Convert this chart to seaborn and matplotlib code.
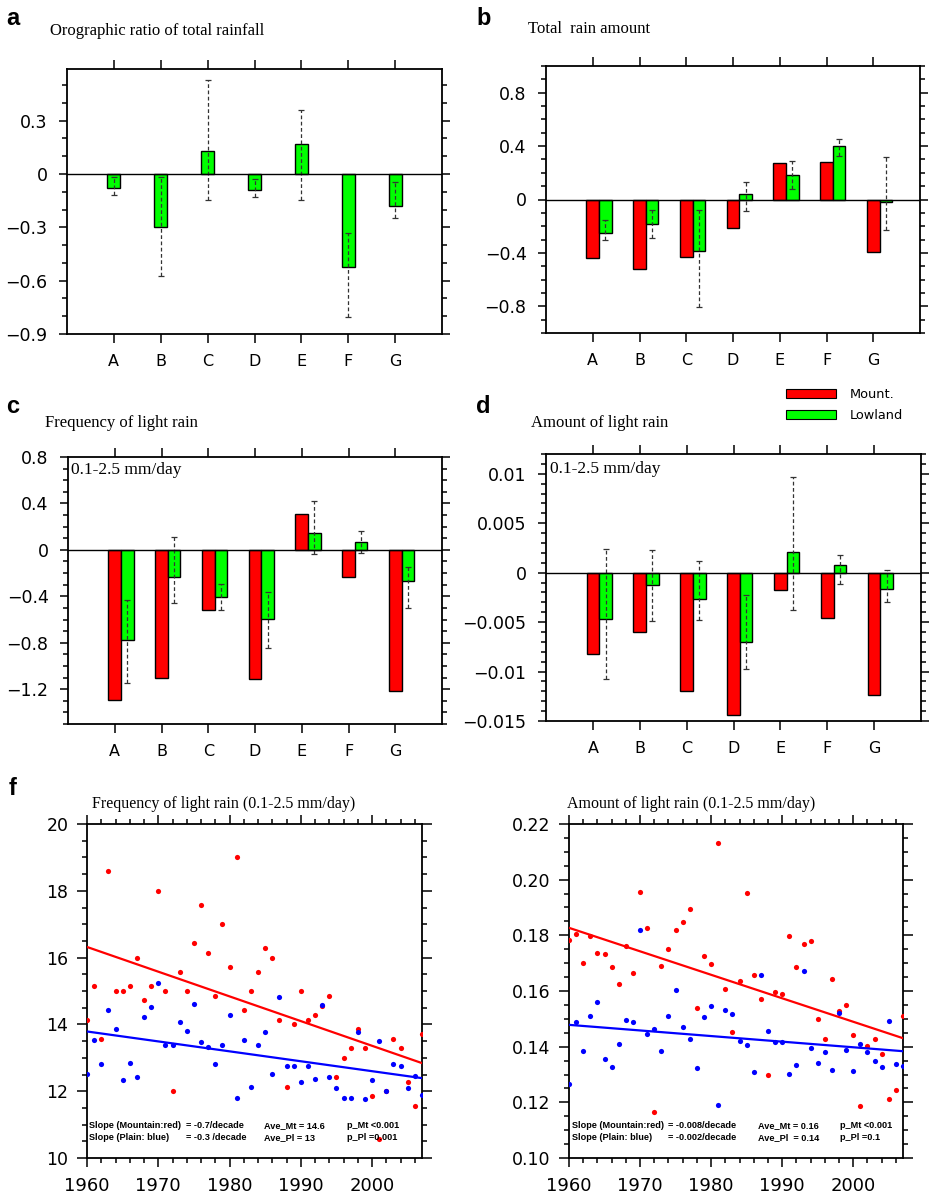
"""
Orographic rainfall figure: bar panels a-d (regions A-G) and trend panels f.
"""
import numpy as np
import pandas as pd
import matplotlib
matplotlib.use('Agg')
import matplotlib.pyplot as plt
from matplotlib.ticker import MultipleLocator, NullLocator, FuncFormatter
from matplotlib.patches import Patch
import seaborn as sns

sns.set_style('ticks')
plt.rcParams['font.family'] = ['DejaVu Sans']
plt.rcParams['axes.unicode_minus'] = True
for k in ['text.color', 'axes.labelcolor', 'xtick.color', 'ytick.color', 'axes.edgecolor']:
    plt.rcParams[k] = 'black'

W, H = 931, 1195
RED, GREEN, BLUE = '#ff0000', '#00ff00', '#0000ff'

# ---- data ----
regions = ['A', 'B', 'C', 'D', 'E', 'F', 'G']

# a: orographic ratio of total rainfall
ratio_total = [-0.08, -0.30, 0.13, -0.093, 0.168, -0.524, -0.179]
ratio_lo = [-0.118, -0.576, -0.147, -0.129, -0.147, -0.803, -0.248]
ratio_hi = [-0.017, -0.02, 0.527, -0.03, 0.361, -0.334, -0.048]

# b: total rain amount
total_mt = [-0.44, -0.52, -0.43, -0.21, 0.27, 0.28, -0.39]
total_ll = [-0.25, -0.185, -0.385, 0.04, 0.185, 0.40, -0.015]
total_lo = [-0.305, -0.29, -0.805, -0.085, 0.08, 0.325, -0.225]
total_hi = [-0.15, -0.08, -0.075, 0.13, 0.29, 0.45, 0.32]

# c: frequency of light rain
freq_mt = [-1.29, -1.10, -0.52, -1.11, 0.31, -0.235, -1.22]
freq_ll = [-0.774, -0.235, -0.407, -0.594, 0.143, 0.066, -0.27]
freq_lo = [-1.15, -0.46, -0.516, -0.846, -0.034, -0.03, -0.502]
freq_hi = [-0.436, 0.115, -0.29, -0.364, 0.419, 0.16, -0.149]

# d: amount of light rain
amt_mt = [-0.0082, -0.0060, -0.0120, -0.0144, -0.0018, -0.00456, -0.0124]
amt_ll = [-0.0047, -0.00125, -0.0027, -0.0070, 0.0021, 0.00074, -0.0017]
amt_lo = [-0.0108, -0.0049, -0.0048, -0.0097, -0.0038, -0.0011, -0.0030]
amt_hi = [0.0024, 0.0023, 0.0012, -0.0023, 0.0097, 0.0018, 0.0003]

# f: yearly series 1960-2007
years = np.arange(1960, 2008)
freq_mount = [14.13, 15.14, 13.56, 18.58, 15.0, 15.0, 15.14, 16.0, 14.72, 15.14,
              18.0, 15.0, 12.0, 15.57, 15.0, 16.43, 17.57, 16.14, 14.86, 17.0,
              15.71, 19.0, 14.43, 15.0, 15.57, 16.29, 16.0, 14.14, 12.14, 14.0,
              15.0, 14.14, 14.29, 14.55, 14.86, 12.43, 13.0, 13.29, 13.86, 13.29,
              11.86, 10.58, 12.0, 13.57, 13.29, 12.28, 11.57, 13.71]
freq_plain = [12.51, 13.53, 12.8, 14.43, 13.86, 12.33, 12.85, 12.43, 14.22, 14.52,
              15.23, 13.39, 13.39, 14.06, 13.81, 14.62, 13.48, 13.33, 12.81, 13.39,
              14.29, 11.8, 13.53, 12.14, 13.39, 13.77, 12.52, 14.81, 12.76, 12.76,
              12.28, 12.76, 12.38, 14.57, 12.43, 12.09, 11.81, 11.81, 13.77, 11.78,
              12.33, 13.5, 12.0, 12.81, 12.76, 12.09, 12.47, 11.9]
amt_mount = [0.1785, 0.1804, 0.1701, 0.1796, 0.1738, 0.1734, 0.1687, 0.1626, 0.1761, 0.1664,
             0.1954, 0.1825, 0.1164, 0.1689, 0.1752, 0.1819, 0.1848, 0.1893, 0.1538, 0.1724,
             0.1698, 0.2133, 0.1608, 0.1453, 0.1637, 0.1953, 0.1656, 0.1573, 0.1300, 0.1597,
             0.1589, 0.1796, 0.1685, 0.1770, 0.1779, 0.1499, 0.1427, 0.1644, 0.1529, 0.1549,
             0.1442, 0.1186, 0.1403, 0.1429, 0.1373, 0.1211, 0.1245, 0.1511]
amt_plain = [0.1267, 0.1490, 0.1385, 0.1510, 0.1559, 0.1354, 0.1328, 0.1408, 0.1496, 0.1489,
             0.1819, 0.1445, 0.1462, 0.1385, 0.1510, 0.1605, 0.1469, 0.1429, 0.1322, 0.1505,
             0.1547, 0.1191, 0.1530, 0.1516, 0.1421, 0.1405, 0.1309, 0.1656, 0.1457, 0.1417,
             0.1415, 0.1302, 0.1334, 0.1671, 0.1394, 0.1343, 0.1382, 0.1315, 0.1521, 0.1388,
             0.1313, 0.1409, 0.1381, 0.1349, 0.1328, 0.1491, 0.1338, 0.1331]

stats_freq = [['Slope (Mountain:red)', '= -0.7/decade', 'Ave_Mt = 14.6', 'p_Mt <0.001'],
              ['Slope (Plain: blue)', '= -0.3 /decade', 'Ave_Pl = 13', 'p_Pl =0.001']]
stats_amt = [['Slope (Mountain:red)', '= -0.008/decade', 'Ave_Mt = 0.16', 'p_Mt <0.001'],
             ['Slope (Plain: blue)', '= -0.002/decade', 'Ave_Pl  = 0.14', 'p_Pl =0.1']]

fig = plt.figure(figsize=(W / 100, H / 100), dpi=100)


def add_ax(l, t, r, b):
    return fig.add_axes([l / W, 1 - b / H, (r - l) / W, (b - t) / H])


def ftext(x, y, s, **kw):
    fig.text(x / W, 1 - y / H, s, color='black', **kw)


def fmt_g(v, p):
    return ('%g' % (round(v, 6) + 0.0)).replace('-', '\u2212')


def style(ax, ylen=6, xlen=6.5, ypad=8, xpad=8):
    ax.tick_params(which='both', direction='out', top=True, right=True,
                   labeltop=False, labelright=False, width=1.1, colors='black')
    ax.tick_params(axis='y', which='major', length=ylen, pad=ypad, labelsize=12.5)
    ax.tick_params(axis='y', which='minor', length=3.5)
    ax.tick_params(axis='x', which='major', length=xlen, pad=xpad)
    ax.tick_params(axis='x', which='minor', length=3.5)
    for s in ax.spines.values():
        s.set_linewidth(1.3)
        s.set_color('black')
    ax.set_xlabel('')
    ax.set_ylabel('')


def bar_panel(ax, mt, ll, lo, hi, yticks, ylim, minor):
    if mt is None:
        sns.barplot(x=regions, y=ll, color=GREEN, saturation=1, width=0.28,
                    edgecolor='black', linewidth=1, errorbar=None, ax=ax)
        off = 0.0
    else:
        df = pd.DataFrame({'region': regions * 2,
                           'group': ['Mount.'] * 7 + ['Lowland'] * 7,
                           'value': list(mt) + list(ll)})
        sns.barplot(data=df, x='region', y='value', hue='group',
                    palette={'Mount.': RED, 'Lowland': GREEN}, saturation=1,
                    width=0.54, edgecolor='black', linewidth=1, errorbar=None,
                    legend=False, ax=ax)
        off = -0.135
    bars = ax.containers[-1]
    xs = [p.get_x() + p.get_width() / 2 for p in bars]
    lo, hi = np.array(lo), np.array(hi)
    eb = ax.errorbar(xs, (lo + hi) / 2, yerr=(hi - lo) / 2, fmt='none',
                     ecolor='#333333', elinewidth=0.9, capsize=2, capthick=0.9, zorder=4)
    eb[2][0].set_linestyle((0, (3, 2)))
    ax.axhline(0, color='black', lw=1, zorder=5)
    ax.set_xticks(np.arange(7) + off, regions)
    ax.set_xlim(off - 1, off + 7)
    ax.set_ylim(*ylim)
    ax.set_yticks(yticks)
    ax.yaxis.set_major_formatter(FuncFormatter(fmt_g))
    ax.yaxis.set_minor_locator(MultipleLocator(minor))
    ax.xaxis.set_minor_locator(NullLocator())
    style(ax)
    ax.tick_params(axis='x', labelsize=11.5)


# ---- bar panels ----
ax_a = add_ax(67, 69, 442, 334)
bar_panel(ax_a, None, ratio_total, ratio_lo, ratio_hi,
          [-0.9, -0.6, -0.3, 0, 0.3], (-0.9, 0.59), 0.1)

ax_b = add_ax(546, 66, 920, 333)
bar_panel(ax_b, total_mt, total_ll, total_lo, total_hi,
          [-0.8, -0.4, 0, 0.4, 0.8], (-1.0, 1.0), 0.1)

ax_c = add_ax(68, 457, 442, 724)
bar_panel(ax_c, freq_mt, freq_ll, freq_lo, freq_hi,
          [-1.2, -0.8, -0.4, 0, 0.4, 0.8], (-1.5, 0.8), 0.1)

ax_d = add_ax(546, 454, 921, 721)
bar_panel(ax_d, amt_mt, amt_ll, amt_lo, amt_hi,
          [-0.015, -0.01, -0.005, 0, 0.005, 0.01], (-0.015, 0.012), 0.001)

# ---- trend panels ----
def trend_panel(ax, mount, plain, ylim, ymaj, ymin, yfmt, stats, cols):
    sns.scatterplot(x=years, y=mount, color=RED, s=14, linewidth=0, ax=ax, zorder=3)
    sns.scatterplot(x=years, y=plain, color=BLUE, s=14, linewidth=0, ax=ax, zorder=3)
    sns.regplot(x=years, y=mount, scatter=False, ci=None, color=RED,
                line_kws={'lw': 1.6, 'zorder': 4}, ax=ax)
    sns.regplot(x=years, y=plain, scatter=False, ci=None, color=BLUE,
                line_kws={'lw': 1.6, 'zorder': 4}, ax=ax)
    ax.set_xlim(1960, 2007)
    ax.set_ylim(*ylim)
    ax.xaxis.set_major_locator(MultipleLocator(10))
    ax.xaxis.set_minor_locator(MultipleLocator(2))
    ax.yaxis.set_major_locator(MultipleLocator(ymaj))
    ax.yaxis.set_minor_locator(MultipleLocator(ymin))
    ax.yaxis.set_major_formatter(FuncFormatter(lambda v, p: yfmt % v))
    style(ax, ylen=7, xlen=6.5, ypad=6.5, xpad=7)
    ax.tick_params(axis='x', labelsize=13)
    for row, yy in zip(stats, [0.096, 0.061]):
        for s, xx in zip(row, cols):
            ax.text(xx, yy, s, transform=ax.transAxes, fontsize=6.6, color='black',
                    fontweight='bold', family='Liberation Sans', va='center', ha='left')


ax_f1 = add_ax(87, 824, 422, 1158)
trend_panel(ax_f1, freq_mount, freq_plain, (10, 20), 2, 0.5, '%g', stats_freq,
            [0.006, 0.295, 0.528, 0.776])

ax_f2 = add_ax(569, 824, 903, 1158)
trend_panel(ax_f2, amt_mount, amt_plain, (0.10, 0.22), 0.02, 0.005, '%.2f', stats_amt,
            [0.009, 0.295, 0.566, 0.812])

# ---- panel letters and titles ----
for s, x, y in [('a', 6, 25), ('b', 476, 25), ('c', 6, 413), ('d', 476, 413), ('f', 9, 795)]:
    ftext(x, y, s, fontsize=17, fontweight='bold', family='Liberation Sans', va='baseline')

serif = dict(family='Liberation Serif', va='baseline', ha='left')
ftext(50, 35, 'Orographic ratio of total rainfall', fontsize=12, **serif)
ftext(528, 33, 'Total  rain amount', fontsize=12, **serif)
ftext(45, 427, 'Frequency of light rain', fontsize=12, **serif)
ftext(531, 427, 'Amount of light rain', fontsize=12, **serif)
ftext(71, 474, '0.1-2.5 mm/day', fontsize=12.5, **serif)
ftext(550, 473, '0.1-2.5 mm/day', fontsize=12.5, **serif)
ftext(92, 808, 'Frequency of light rain (0.1-2.5 mm/day)', fontsize=11.5, **serif)
ftext(567, 808, 'Amount of light rain (0.1-2.5 mm/day)', fontsize=11.5, **serif)

# ---- legend ----
handles = [Patch(facecolor=RED, edgecolor='black', lw=0.8),
           Patch(facecolor=GREEN, edgecolor='black', lw=0.8)]
fig.legend(handles, ['Mount.', 'Lowland'], loc='upper left',
           bbox_to_anchor=(786 / W, 1 - 388 / H), frameon=False, fontsize=9.3,
           handlelength=3.9, handleheight=0.7, handletextpad=1.0,
           labelspacing=0.62, borderpad=0, borderaxespad=0)

fig.savefig('out.png', dpi=100)
